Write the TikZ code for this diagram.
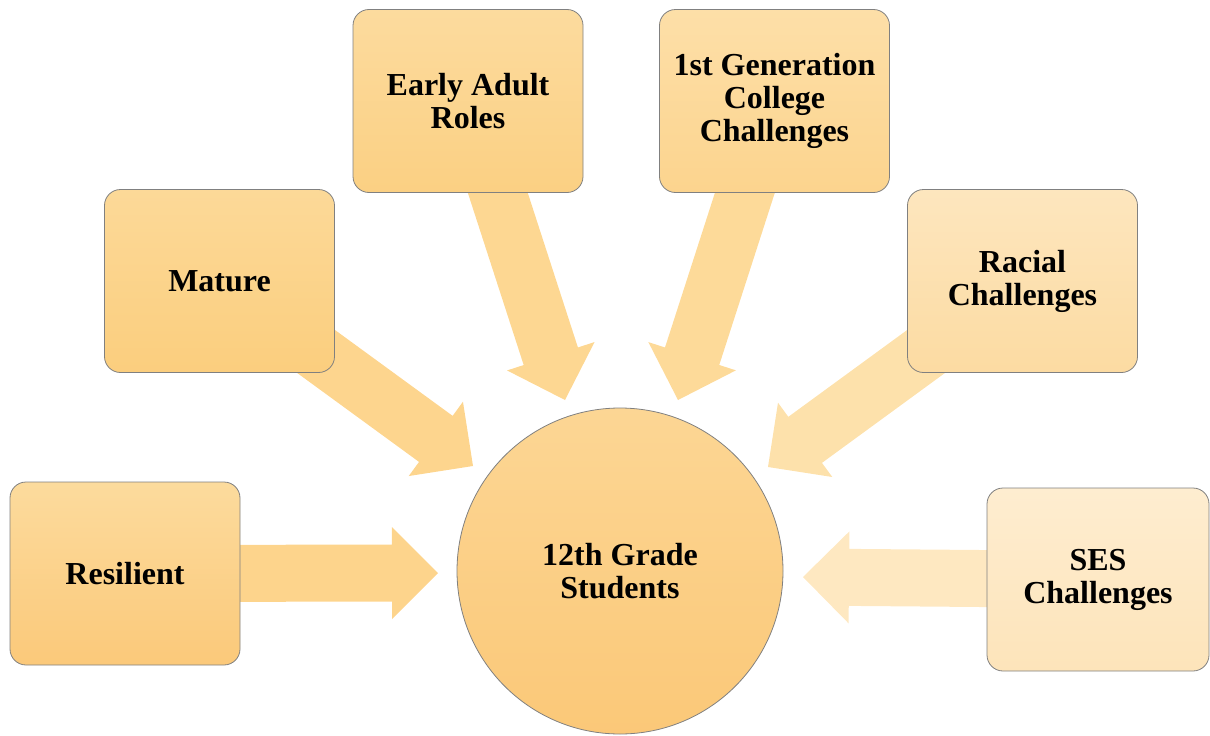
\documentclass[tikz,border=0pt]{standalone}
\usepackage{fontspec}
\setmainfont{Liberation Serif}
\usetikzlibrary{calc}
\definecolor{resT}{RGB}{252,219,157}\definecolor{resB}{RGB}{251,201,122}
\definecolor{matT}{RGB}{252,217,152}\definecolor{matB}{RGB}{251,206,126}
\definecolor{earT}{RGB}{252,219,158}\definecolor{earB}{RGB}{251,208,131}
\definecolor{genT}{RGB}{253,223,168}\definecolor{genB}{RGB}{252,212,142}
\definecolor{racT}{RGB}{253,230,190}\definecolor{racB}{RGB}{252,219,162}
\definecolor{sesT}{RGB}{254,237,208}\definecolor{sesB}{RGB}{253,228,186}
\definecolor{cirT}{RGB}{252,214,148}\definecolor{cirB}{RGB}{251,200,120}
\definecolor{aRes}{RGB}{253,212,140}\definecolor{aMat}{RGB}{253,213,142}
\definecolor{aEar}{RGB}{253,215,146}\definecolor{aGen}{RGB}{253,218,153}
\definecolor{aRac}{RGB}{253,225,171}\definecolor{aSes}{RGB}{254,232,193}
\definecolor{edge}{RGB}{128,128,128}
\newcommand\blockarrow[3]{%
  \fill[#1] ($(#2)!28.5pt!90:(#3)$)
    -- ($(#3)!46pt!(#2)!28.5pt!-90:(#2)$)
    -- ($(#3)!46pt!(#2)!46pt!-90:(#2)$)
    -- (#3)
    -- ($(#3)!46pt!(#2)!46pt!90:(#2)$)
    -- ($(#3)!46pt!(#2)!28.5pt!90:(#2)$)
    -- ($(#2)!28.5pt!-90:(#3)$) -- cycle;}
\begin{document}
\begin{tikzpicture}[x=1pt,y=-1pt,
  lbl/.style={font=\fontsize{32}{33}\selectfont\bfseries, align=center, text=black},
  box/.style={lbl, draw=edge, line width=0.8pt, rounded corners=16pt,
    minimum width=230pt, minimum height=183pt, inner sep=0pt},
  hub/.style={lbl, circle, draw=edge, line width=0.8pt, minimum size=326pt, inner sep=0pt}]
\useasboundingbox (0,0) rectangle (1210,736);
% anchor points (box centres and arrow tips)
\coordinate (cRes) at (125,573.5);
\coordinate (cMat) at (219.5,281);
\coordinate (cEar) at (468,101);
\coordinate (cGen) at (774.5,101);
\coordinate (cRac) at (1022.5,281);
\coordinate (cSes) at (1098,579.5);
\coordinate (tRes) at (438,573);
\coordinate (tMat) at (473,466);
\coordinate (tEar) at (565,400);
\coordinate (tGen) at (678,400);
\coordinate (tRac) at (768,467);
\coordinate (tSes) at (803,577);
% arrows
\blockarrow{aRes}{cRes}{tRes}
\blockarrow{aMat}{cMat}{tMat}
\blockarrow{aEar}{cEar}{tEar}
\blockarrow{aGen}{cGen}{tGen}
\blockarrow{aRac}{cRac}{tRac}
\blockarrow{aSes}{cSes}{tSes}
% boxes
\node[box, top color=resT, bottom color=resB] (res) at (cRes) {Resilient};
\node[box, top color=matT, bottom color=matB] (mat) at (cMat) {Mature};
\node[box, top color=earT, bottom color=earB] (ear) at (cEar) {Early Adult\\Roles};
\node[box, top color=genT, bottom color=genB] (gen) at (cGen) {1st Generation\\College\\Challenges};
\node[box, top color=racT, bottom color=racB] (rac) at (cRac) {Racial\\Challenges};
\node[box, minimum width=222pt, top color=sesT, bottom color=sesB] (ses) at (cSes) {SES\\Challenges};
\node[hub, top color=cirT, bottom color=cirB] (hub) at (620,571) {12th Grade\\Students};
\end{tikzpicture}
\end{document}
